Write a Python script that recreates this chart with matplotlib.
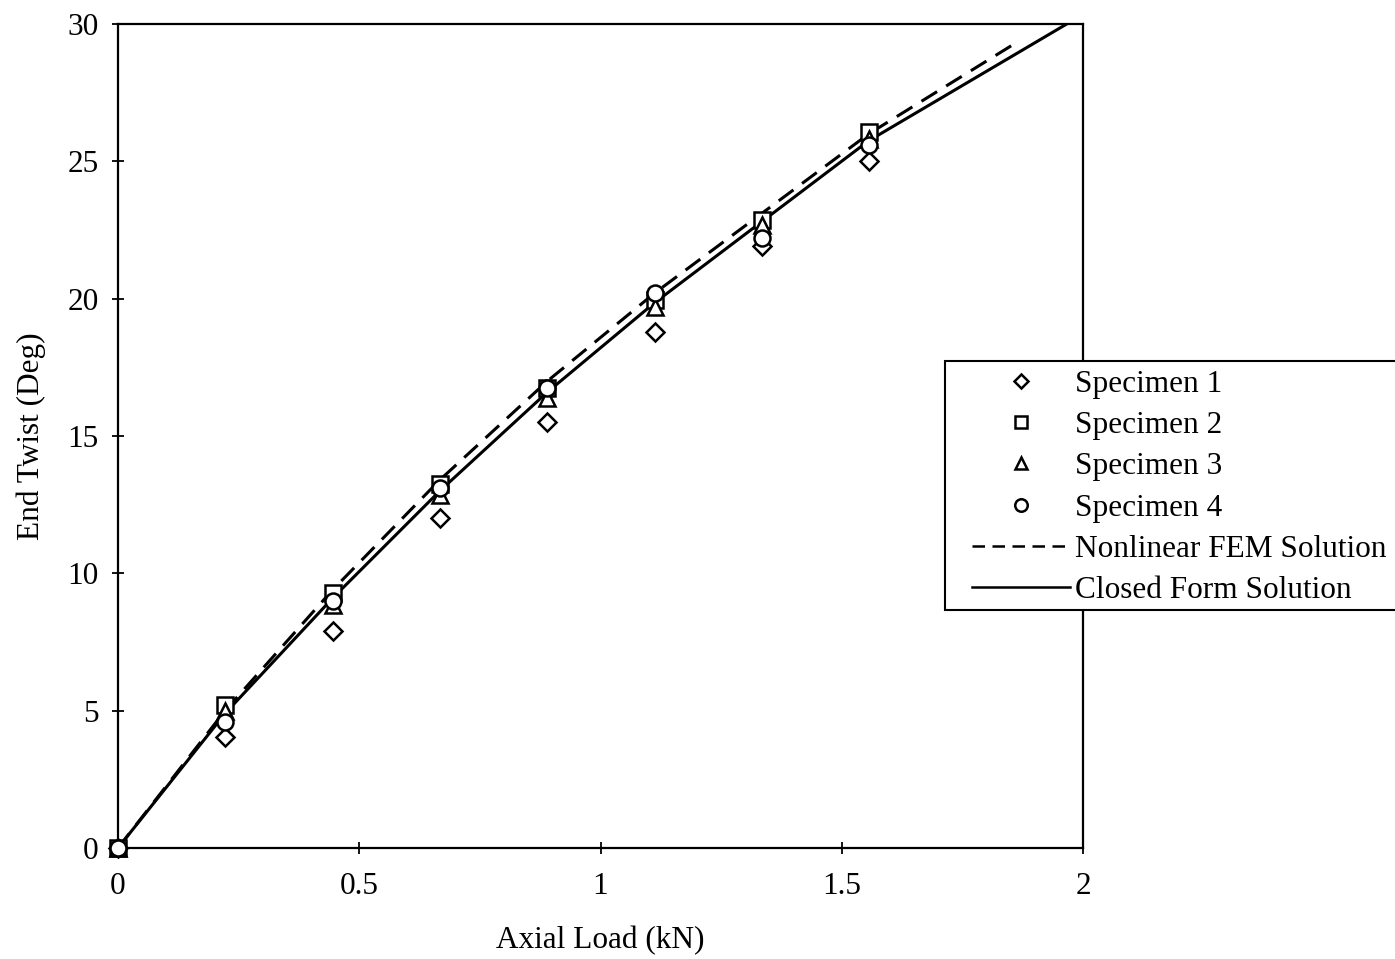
import matplotlib
matplotlib.use("Agg")
import matplotlib.pyplot as plt
from matplotlib.lines import Line2D
from matplotlib.patches import Rectangle

# Applied axial load steps (kN)
load = [0.0, 0.222, 0.445, 0.667, 0.890, 1.112, 1.334, 1.556]

# Measured end twist (deg) for each specimen
spec1 = [0.0, 4.05, 7.9, 12.0, 15.5, 18.8, 21.9, 25.0]
spec2 = [0.0, 5.2, 9.3, 13.25, 16.75, 19.95, 22.85, 26.05]
spec3 = [0.0, 5.0, 8.85, 12.85, 16.4, 19.7, 22.7, 25.8]
spec4 = [0.0, 4.6, 9.0, 13.1, 16.75, 20.2, 22.2, 25.6]

# Nonlinear FEM prediction
fem_load = [0.0, 0.222, 0.445, 0.667, 0.890, 1.112, 1.334, 1.556, 1.869]
fem_twist = [0.0, 5.0, 9.4, 13.4, 17.0, 20.2, 23.1, 26.0, 29.4]

# Closed form solution
cf_load = [0.0, 0.222, 0.445, 0.667, 0.890, 1.112, 1.334, 1.556, 2.0]
cf_twist = [0.0, 4.9, 9.1, 13.0, 16.6, 19.85, 22.8, 25.75, 30.35]

x_ticks = [0, 0.5, 1, 1.5, 2]
x_tick_labels = ["0", "0.5", "1", "1.5", "2"]
y_ticks = [0, 5, 10, 15, 20, 25, 30]

plt.rcParams["font.family"] = ["Liberation Serif", "DejaVu Serif"]
FS = 22.5
W, H = 1395, 959

fig = plt.figure(figsize=(W / 100, H / 100), dpi=100)
ax = fig.add_axes([118 / W, 1 - 848 / H, (1083 - 118) / W, (848 - 24) / H])

ax.plot(cf_load, cf_twist, color="black", lw=2.2, solid_joinstyle="round", zorder=2)
ax.plot(fem_load, fem_twist, color="black", lw=2.2, dashes=(6, 3.5), zorder=2)

mk = dict(linestyle="none", markerfacecolor="white", markeredgecolor="black",
          markeredgewidth=1.8, clip_on=False, zorder=3)
ax.plot(load, spec1, marker="D", markersize=9.0, **mk)
ax.plot(load, spec2, marker="s", markersize=11.5, **mk)
ax.plot(load, spec3, marker="^", markersize=11.0, **mk)
ax.plot(load, spec4, marker="o", markersize=11.5, **mk)

ax.set_xlim(0, 2)
ax.set_ylim(0, 30)
ax.set_xticks(x_ticks)
ax.set_xticklabels(x_tick_labels)
ax.set_yticks(y_ticks)
ax.tick_params(direction="inout", length=8, width=1.3, labelsize=FS, color="black")
ax.tick_params(axis="x", pad=13)
ax.tick_params(axis="y", pad=10)
for s in ax.spines.values():
    s.set_linewidth(1.6)

ax.set_xlabel("Axial Load (kN)", fontsize=FS, labelpad=18)
ax.set_ylabel("End Twist (Deg)", fontsize=FS, labelpad=15)

lmk = dict(linestyle="none", markerfacecolor="white", markeredgecolor="black", markeredgewidth=1.8)
handles = [
    Line2D([], [], marker="D", markersize=7, **lmk),
    Line2D([], [], marker="s", markersize=9, **lmk),
    Line2D([], [], marker="^", markersize=9, **lmk),
    Line2D([], [], marker="o", markersize=9, **lmk),
    Line2D([], [], color="black", lw=1.8, dashes=(5, 3)),
    Line2D([], [], color="black", lw=1.8),
]
labels = ["Specimen 1", "Specimen 2", "Specimen 3", "Specimen 4",
          "Nonlinear FEM Solution", "Closed Form Solution"]

# Legend box, drawn separately so it can run to the figure edge
box = Rectangle((945 / W, 1 - 610 / H), (W + 10 - 945) / W, (610 - 361) / H,
                transform=fig.transFigure, facecolor="white",
                edgecolor="black", linewidth=1.5, zorder=5, clip_on=False)
ax.add_patch(box)
leg = ax.legend(handles, labels, loc="upper left",
                bbox_to_anchor=(972 / W, 1 - 370 / H), bbox_transform=fig.transFigure,
                borderaxespad=0, frameon=False, fontsize=FS,
                handlelength=3.14, handletextpad=0.16, labelspacing=0.39,
                borderpad=0.0)
leg.set_zorder(6)

fig.savefig("out.png", dpi=100)
